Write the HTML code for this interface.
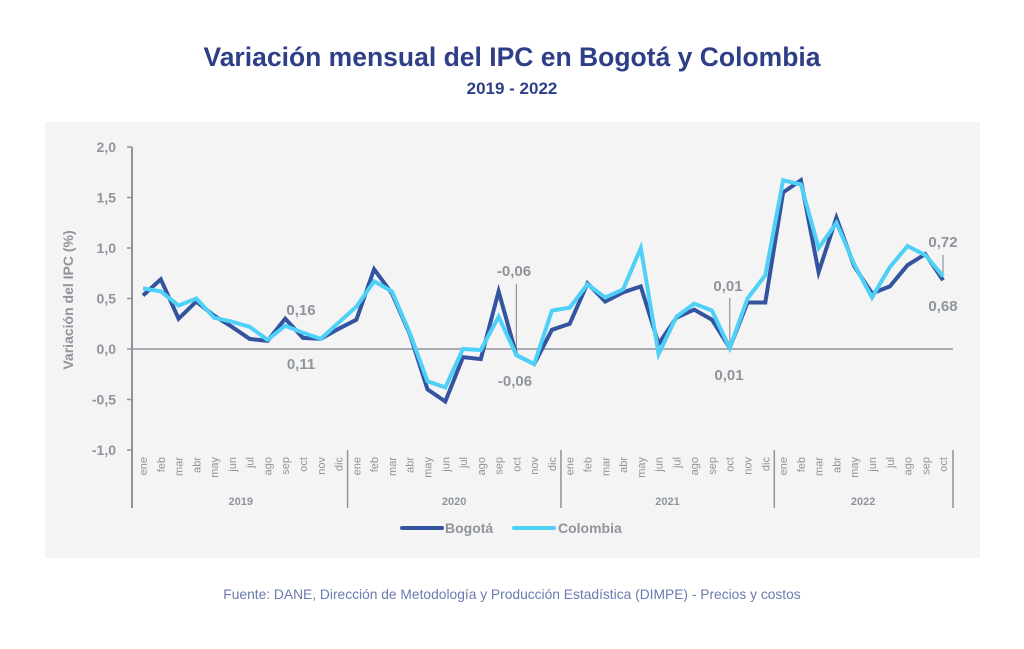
<!DOCTYPE html>
<html><head><meta charset="utf-8"><style>
body{margin:0;background:#fff;width:1024px;height:644px;overflow:hidden;font-family:"Liberation Sans",sans-serif}
</style></head><body>
<svg id="s" width="1024" height="644" xmlns="http://www.w3.org/2000/svg" font-family="Liberation Sans, sans-serif">
<rect x="0" y="0" width="1024" height="644" fill="#fff"/>
<text x="512" y="66" text-anchor="middle" font-size="26.5" font-weight="bold" fill="#2f3f87">Variación mensual del IPC en Bogotá y Colombia</text>
<text x="512" y="94" text-anchor="middle" font-size="17" font-weight="bold" fill="#2f3f87">2019 - 2022</text>
<rect x="45" y="122" width="935" height="436" fill="#f4f4f4"/>
<g id="g"></g>
<text x="512" y="599" text-anchor="middle" font-size="13.8" fill="#6a7bb0">Fuente: DANE, Dirección de Metodología y Producción Estadística (DIMPE) - Precios y costos</text>
</svg>
<script>
const g=document.getElementById('g');let h='';
const Y=v=>349-101*v, X=i=>143+i*17.78;
const gray='#8f949c';
h+=`<line x1="132" y1="147" x2="132" y2="508" stroke="${gray}" stroke-width="2"/>`;
h+=`<line x1="132" y1="349" x2="953" y2="349" stroke="${gray}" stroke-width="1.6"/>`;
[2,1.5,1,0.5,0,-0.5,-1].forEach(v=>{h+=`<line x1="127" y1="${Y(v)}" x2="132" y2="${Y(v)}" stroke="${gray}" stroke-width="1.5"/>`;
h+=`<text x="116" y="${Y(v)+5}" text-anchor="end" font-size="14" font-weight="bold" fill="${gray}">${v.toFixed(1).replace('.',',')}</text>`;});
h+=`<text transform="translate(73,300) rotate(-90)" text-anchor="middle" font-size="14" font-weight="bold" fill="${gray}">Variación del IPC (%)</text>`;
const m=['ene','feb','mar','abr','may','jun','jul','ago','sep','oct','nov','dic'];
for(let i=0;i<46;i++){h+=`<text transform="translate(${X(i)+4},457) rotate(-90)" text-anchor="end" font-size="11" fill="${gray}">${m[i%12]}</text>`;}
[0,1,2,3].forEach(k=>{const xs=X(12*k+11)+9;if(k<3)h+=`<line x1="${xs}" y1="450" x2="${xs}" y2="508" stroke="${gray}" stroke-width="1.5"/>`;
const c=k<3?(X(12*k)+X(12*k+11))/2:(X(36)+X(45))/2;h+=`<text x="${c}" y="505" text-anchor="middle" font-size="11" font-weight="bold" fill="${gray}">${2019+k}</text>`;});
h+=`<line x1="953" y1="450" x2="953" y2="508" stroke="${gray}" stroke-width="1.5"/>`;
const b=[0.53,0.69,0.30,0.47,0.33,0.22,0.10,0.08,0.30,0.11,0.10,0.20,0.29,0.79,0.55,0.15,-0.40,-0.52,-0.08,-0.10,0.57,-0.06,-0.15,0.19,0.25,0.65,0.47,0.56,0.62,0.05,0.31,0.39,0.29,0.01,0.46,0.46,1.55,1.67,0.76,1.30,0.82,0.55,0.62,0.83,0.94,0.68];
const c=[0.60,0.57,0.43,0.50,0.31,0.27,0.22,0.09,0.23,0.16,0.10,0.26,0.42,0.67,0.57,0.16,-0.32,-0.38,0.00,-0.01,0.32,-0.06,-0.15,0.38,0.41,0.64,0.51,0.59,1.00,-0.05,0.32,0.45,0.38,0.01,0.50,0.73,1.67,1.63,1.00,1.25,0.84,0.51,0.81,1.02,0.93,0.72];
const pl=(d,col)=>`<polyline fill="none" stroke="${col}" stroke-width="4" stroke-linejoin="miter" points="${d.map((v,i)=>X(i).toFixed(1)+','+Y(v).toFixed(1)).join(' ')}"/>`;
h+=`<line x1="${X(21)}" y1="284" x2="${X(21)}" y2="355" stroke="${gray}" stroke-width="1.2"/>`;
h+=`<line x1="${X(33)}" y1="298" x2="${X(33)}" y2="348" stroke="${gray}" stroke-width="1.2"/>`;
h+=`<line x1="943" y1="255" x2="943" y2="273" stroke="${gray}" stroke-width="1.2"/>`;
h+=pl(b,'#34549f')+pl(c,'#4fd0f7');
const L=(x,y,t)=>h+=`<text x="${x}" y="${y}" text-anchor="middle" font-size="15" font-weight="bold" fill="${gray}">${t}</text>`;
L(301,315,'0,16');L(301,369,'0,11');L(514,276,'-0,06');L(515,386,'-0,06');L(728,291,'0,01');L(729,380,'0,01');L(943,247,'0,72');L(943,311,'0,68');
h+=`<line x1="402" y1="528" x2="442" y2="528" stroke="#34549f" stroke-width="4" stroke-linecap="round"/><text x="445" y="533" font-size="14" font-weight="bold" fill="${gray}">Bogotá</text>`;
h+=`<line x1="514" y1="528" x2="554" y2="528" stroke="#4fd0f7" stroke-width="4" stroke-linecap="round"/><text x="558" y="533" font-size="14" font-weight="bold" fill="${gray}">Colombia</text>`;
g.innerHTML=h;
</script>
</body></html>
